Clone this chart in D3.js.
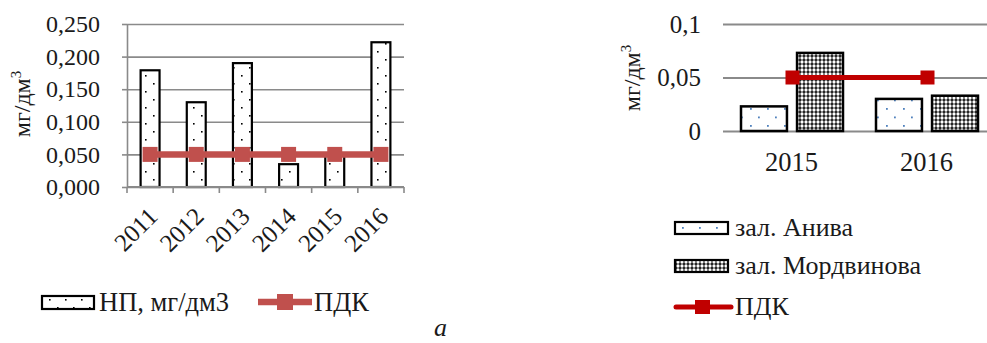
<!DOCTYPE html>
<html>
<head>
<meta charset="utf-8">
<script src="https://cdn.jsdelivr.net/npm/d3@7"></script>
<style>
  html, body { margin: 0; padding: 0; background: #fff; }
  svg { display: block; }
  text { font-family: "Liberation Serif", "Times New Roman", serif; fill: #1a1a1a; }
</style>
</head>
<body>
<svg id="chart" width="987" height="343"></svg>
<script>
// ---- Data (left chart) ----
const yearsA = ["2011", "2012", "2013", "2014", "2015", "2016"];
const npValues = [0.179, 0.130, 0.190, 0.035, 0.048, 0.222];
const pdkA = [0.05, 0.05, 0.05, 0.05, 0.05, 0.05];
const ticksA = [0, 0.05, 0.10, 0.15, 0.20, 0.25];
const legendA = ["НП, мг/дм3", "ПДК"];

// ---- Data (right chart) ----
const yearsB = ["2015", "2016"];
const seriesB = ["зал. Анива", "зал. Мордвинова"];
const anivaValues = [0.023, 0.030];
const mordvinovaValues = [0.073, 0.033];
const pdkB = [0.05, 0.05];
const ticksB = [0, 0.05, 0.1];

const svg = d3.select("#chart");
const defs = svg.append("defs");
const gridColor = "#8a8a8a";

// patterns
const pDots = defs.append("pattern").attr("id", "pDots").attr("patternUnits", "userSpaceOnUse")
  .attr("width", 16).attr("height", 16).attr("x", 1).attr("y", 3);
pDots.append("rect").attr("width", 16).attr("height", 16).attr("fill", "#fff");
pDots.append("rect").attr("x", 8).attr("y", 0).attr("width", 1.6).attr("height", 1.6).attr("fill", "#000");
pDots.append("rect").attr("x", 0).attr("y", 8).attr("width", 1.6).attr("height", 1.6).attr("fill", "#000");

const pBlue = defs.append("pattern").attr("id", "pBlue").attr("patternUnits", "userSpaceOnUse")
  .attr("width", 17).attr("height", 17).attr("x", 2).attr("y", 6);
pBlue.append("rect").attr("width", 17).attr("height", 17).attr("fill", "#fff");
pBlue.append("rect").attr("x", 0).attr("y", 0).attr("width", 1.8).attr("height", 1.8).attr("fill", "#4f81bd");
pBlue.append("rect").attr("x", 8).attr("y", 8.5).attr("width", 1.8).attr("height", 1.8).attr("fill", "#4f81bd");

const pCross = defs.append("pattern").attr("id", "pCross").attr("patternUnits", "userSpaceOnUse")
  .attr("width", 4).attr("height", 4);
pCross.append("rect").attr("width", 4).attr("height", 4).attr("fill", "#111");
pCross.append("circle").attr("cx", 2).attr("cy", 2).attr("r", 1.65).attr("fill", "#fff");

// ================= LEFT CHART =================
const xA = d3.scaleBand().domain(yearsA).range([127, 404]).paddingInner(0.59).paddingOuter(0.295);
const yA = d3.scaleLinear().domain([0, 0.25]).range([187, 24]);
const fmtA = v => d3.format(".3f")(v).replace(".", ",");

// gridlines
svg.append("g").attr("transform", "translate(127,0)")
  .call(d3.axisLeft(yA).tickValues(ticksA).tickSize(-277).tickFormat(""))
  .call(g => g.select(".domain").remove())
  .call(g => g.selectAll("line").attr("stroke", gridColor).attr("stroke-width", 1.6));

// y axis
svg.append("g").attr("transform", "translate(127,0)")
  .call(d3.axisLeft(yA).tickValues(ticksA).tickSize(5).tickSizeOuter(0).tickPadding(22).tickFormat(fmtA))
  .call(g => g.select(".domain").attr("stroke", gridColor).attr("stroke-width", 1.6))
  .call(g => g.selectAll("line").attr("stroke", gridColor).attr("stroke-width", 1.6))
  .call(g => g.selectAll("text").attr("font-size", 24).attr("font-family", "Liberation Serif").attr("fill", "#1a1a1a"));

// bars
svg.append("g").selectAll("rect").data(npValues).join("rect")
  .attr("x", (d, i) => xA(yearsA[i]))
  .attr("y", d => yA(d))
  .attr("width", xA.bandwidth())
  .attr("height", d => yA(0) - yA(d))
  .attr("fill", "url(#pDots)")
  .attr("stroke", "#000").attr("stroke-width", 2.2);

// x axis
const xAstep = xA.step();
const boundaries = d3.range(yearsA.length + 1).map(i => 127 + i * xAstep);
svg.append("line").attr("x1", 127).attr("x2", 404).attr("y1", yA(0)).attr("y2", yA(0))
  .attr("stroke", gridColor).attr("stroke-width", 1.8);
svg.append("g").selectAll("line").data(boundaries).join("line")
  .attr("x1", d => d).attr("x2", d => d).attr("y1", yA(0)).attr("y2", yA(0) + 6)
  .attr("stroke", gridColor).attr("stroke-width", 1.6);
svg.append("g").selectAll("text").data(yearsA).join("text")
  .attr("transform", d => `translate(${xA(d) + xA.bandwidth() / 2 + 9},${yA(0) + 31}) rotate(-45)`)
  .attr("text-anchor", "end")
  .attr("font-size", 25)
  .text(d => d);

// PDK line
const lineA = d3.line().x((d, i) => xA(yearsA[i]) + xA.bandwidth() / 2).y(d => yA(d));
svg.append("path").datum(pdkA).attr("d", lineA)
  .attr("fill", "none").attr("stroke", "#c0504d").attr("stroke-width", 6.5);
svg.append("g").selectAll("rect").data(pdkA).join("rect")
  .attr("x", (d, i) => xA(yearsA[i]) + xA.bandwidth() / 2 - 7.5)
  .attr("y", d => yA(d) - 7.5)
  .attr("width", 15).attr("height", 15)
  .attr("fill", "#c0504d");

// y title
svg.append("text").attr("transform", "translate(30,104) rotate(-90)")
  .attr("text-anchor", "middle").attr("font-size", 24)
  .call(t => { t.append("tspan").text("мг/дм"); t.append("tspan").attr("font-size", 15).attr("dy", -9).text("3"); });

// legend A
svg.append("rect").attr("x", 42).attr("y", 296).attr("width", 52).attr("height", 13)
  .attr("fill", "url(#pDots)").attr("stroke", "#000").attr("stroke-width", 2.2);
svg.append("text").attr("x", 99).attr("y", 311).attr("font-size", 26.5).text(legendA[0]);
svg.append("line").attr("x1", 258).attr("x2", 312).attr("y1", 302).attr("y2", 302)
  .attr("stroke", "#c0504d").attr("stroke-width", 6.5);
svg.append("rect").attr("x", 277).attr("y", 294).attr("width", 16).attr("height", 16).attr("fill", "#c0504d");
svg.append("text").attr("x", 314).attr("y", 311).attr("font-size", 26.5).text(legendA[1]);

svg.append("text").attr("x", 434).attr("y", 336).attr("font-size", 26).attr("font-style", "italic").text("а");

// ================= RIGHT CHART =================
const x0 = d3.scaleBand().domain(yearsB).range([725, 995]);
const x1 = d3.scaleBand().domain(seriesB).range([16, 118]).paddingInner(0.18);
const yB = d3.scaleLinear().domain([0, 0.1]).range([131, 24]);
const fmtB = v => String(v).replace(".", ",");

svg.append("g").attr("transform", "translate(723,0)")
  .call(d3.axisLeft(yB).tickValues(ticksB).tickSize(-270).tickFormat(""))
  .call(g => g.select(".domain").remove())
  .call(g => g.selectAll("line").attr("stroke", gridColor).attr("stroke-width", 1.8));

svg.append("g").selectAll("text").data(ticksB).join("text")
  .attr("x", 701).attr("y", d => yB(d)).attr("dy", "0.35em")
  .attr("text-anchor", "end").attr("font-size", 25)
  .text(fmtB);

const valsB = [anivaValues, mordvinovaValues];
const fillsB = ["url(#pBlue)", "url(#pCross)"];
const gB = svg.append("g");
yearsB.forEach((yr, i) => {
  seriesB.forEach((s, j) => {
    const v = valsB[j][i];
    gB.append("rect")
      .attr("x", x0(yr) + x1(s))
      .attr("y", yB(v))
      .attr("width", x1.bandwidth())
      .attr("height", yB(0) - yB(v))
      .attr("fill", fillsB[j])
      .attr("stroke", "#000").attr("stroke-width", 2.5);
  });
});

svg.append("g").selectAll("text").data(yearsB).join("text")
  .attr("x", d => x0(d) + x0.bandwidth() / 2 - 1).attr("y", 171)
  .attr("text-anchor", "middle").attr("font-size", 26.5).text(d => d);

const lineB = d3.line().x((d, i) => x0(yearsB[i]) + x0.bandwidth() / 2).y(d => yB(d));
svg.append("path").datum(pdkB).attr("d", lineB)
  .attr("fill", "none").attr("stroke", "#c00000").attr("stroke-width", 5);
svg.append("g").selectAll("rect").data(pdkB).join("rect")
  .attr("x", (d, i) => x0(yearsB[i]) + x0.bandwidth() / 2 - 7)
  .attr("y", d => yB(d) - 7)
  .attr("width", 14).attr("height", 14).attr("fill", "#c00000");

svg.append("text").attr("transform", "translate(640,78) rotate(-90)")
  .attr("text-anchor", "middle").attr("font-size", 24)
  .call(t => { t.append("tspan").text("мг/дм"); t.append("tspan").attr("font-size", 15).attr("dy", -9).text("3"); });

// legend B
const legRows = [228, 266, 307];
seriesB.forEach((s, j) => {
  svg.append("rect").attr("x", 675).attr("y", legRows[j] - 6).attr("width", 53).attr("height", 12)
    .attr("fill", fillsB[j]).attr("stroke", "#000").attr("stroke-width", 2.2);
  svg.append("text").attr("x", 735).attr("y", legRows[j] + 8).attr("font-size", 26).text(s);
});
svg.append("line").attr("x1", 676).attr("x2", 731).attr("y1", legRows[2]).attr("y2", legRows[2])
  .attr("stroke", "#c00000").attr("stroke-width", 5).attr("stroke-linecap", "round");
svg.append("rect").attr("x", 695).attr("y", legRows[2] - 7).attr("width", 15).attr("height", 14).attr("fill", "#c00000");
svg.append("text").attr("x", 735).attr("y", legRows[2] + 8).attr("font-size", 26).text("ПДК");
</script>
</body>
</html>
